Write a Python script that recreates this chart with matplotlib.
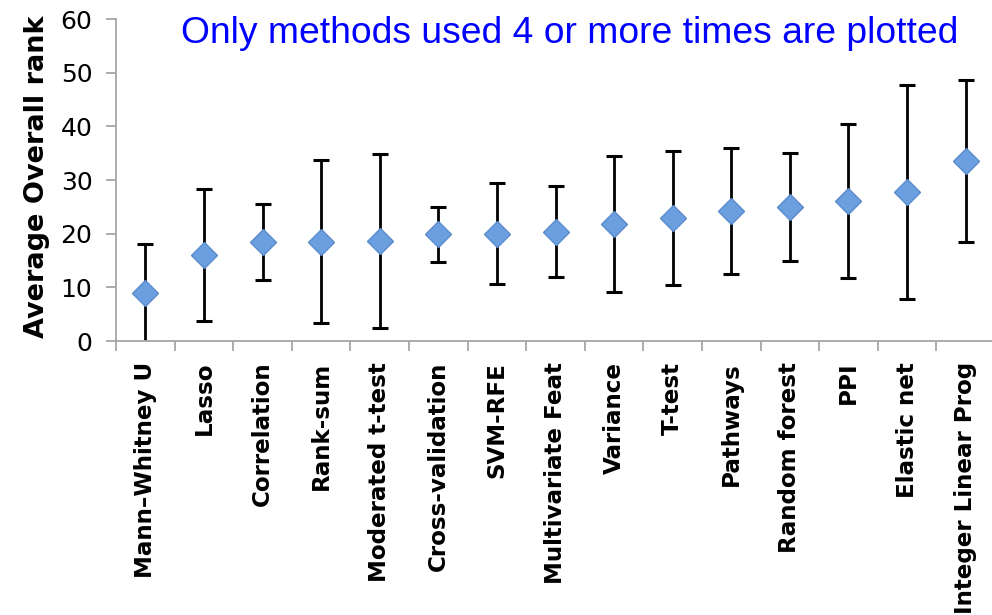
import numpy as np
import matplotlib
matplotlib.use('Agg')
from matplotlib import pyplot as plt

# methods used 4 or more times, ordered by mean rank
methods = ['Mann\u2013Whitney U', 'Lasso', 'Correlation', 'Rank-sum',
           'Moderated t-test', 'Cross-validation', 'SVM-RFE',
           'Multivariate Feat', 'Variance', 'T-test', 'Pathways',
           'Random forest', 'PPI', 'Elastic net', 'Integer Linear Prog']
mean_rank = [8.9, 16.0, 18.5, 18.5, 18.7, 19.9, 20.0, 20.4, 21.8, 23.0,
             24.2, 25.0, 26.1, 27.8, 33.5]
sd_rank = [9.2, 12.3, 7.1, 15.2, 16.2, 5.1, 9.4, 8.5, 12.6, 12.5,
           11.7, 10.1, 14.3, 19.9, 15.1]

fig = plt.figure(figsize=(9.92, 6.15), dpi=100)
ax = fig.add_axes([0.117, 0.4455, 0.886, 0.5235])

x = np.arange(len(methods))
ax.errorbar(x, mean_rank, yerr=sd_rank, fmt='none', ecolor='black',
            elinewidth=2.0, capsize=6, capthick=2.2, zorder=2)
ax.plot(x, mean_rank, 'D', markersize=13.5, markerfacecolor='#6c9fdf',
        markeredgecolor='#5a8ccc', markeredgewidth=1.0, zorder=3)

ax.set_xlim(-0.5, len(methods) - 0.5)
ax.set_ylim(0, 60)
ax.set_yticks(range(0, 61, 10))
ax.set_xticks(x)
ax.set_xticklabels(methods, rotation=90, fontsize=16.6, fontweight='bold')
# tick marks sit between the categories
ax.set_xticks(np.arange(-0.5, len(methods), 1.0), minor=True)
ax.tick_params(axis='x', which='major', length=0, pad=15)
ax.tick_params(axis='x', which='minor', length=7, width=1.3, color='#a6a6a6')
ax.tick_params(axis='y', length=7, width=1.3, color='#a6a6a6', labelsize=18, pad=10)

for s in ['top', 'right']:
    ax.spines[s].set_visible(False)
for s in ['left', 'bottom']:
    ax.spines[s].set_color('#a6a6a6')
    ax.spines[s].set_linewidth(1.3)
ax.spines['bottom'].set_clip_on(False)

ax.set_ylabel('Average Overall rank', fontsize=19.5, fontweight='bold')
ax.yaxis.set_label_coords(-0.075, 0.51)

fig.text(570 / 992, 0.930, 'Only methods used 4 or more times are plotted',
         color='#0000ff', fontsize=26.8, family='Liberation Sans',
         ha='center', va='baseline')

plt.savefig('out.png', dpi=100)
